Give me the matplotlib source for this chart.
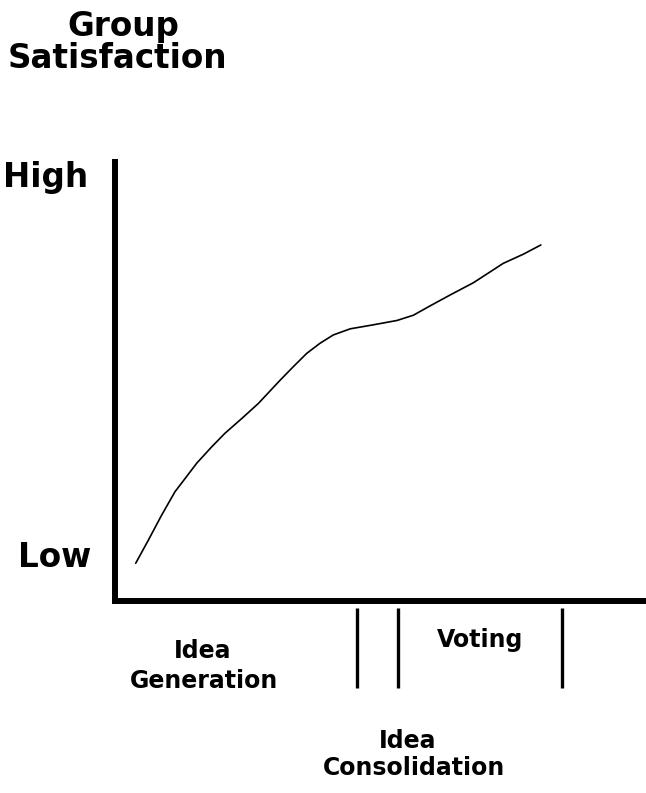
import numpy as np
import matplotlib.pyplot as plt

plt.rcParams['font.family'] = ['DejaVu Sans']

# satisfaction curve (time 0-100, satisfaction 0-100)
time_pts = [3.9, 6.3, 8.8, 11.3, 13.2, 15.4, 18.2, 20.7, 23.9, 27.0, 31.1, 33.6,
            36.1, 38.6, 41.1, 44.3, 48.6, 53.1, 56.2, 59.3, 63.1, 67.5, 73.1,
            76.9, 80.2]
satisfaction = [8.6, 13.9, 19.6, 24.9, 27.9, 31.4, 35.1, 38.2, 41.6, 45.0, 50.3,
                53.4, 56.4, 58.7, 60.6, 62.0, 62.9, 63.9, 65.1, 67.2, 69.7, 72.5,
                76.9, 79.0, 81.1]

# stage boundaries on the time axis
stage_marks = [45.6, 53.3, 84.2]

W, H = 646, 793

fig = plt.figure(figsize=(W / 100, H / 100), dpi=100)
ax = fig.add_axes([115 / W, 1 - 601 / H, (W - 115) / W, (601 - 162) / H])

ax.plot(time_pts, satisfaction, color='black', lw=1.2,
        solid_joinstyle='round', solid_capstyle='round')
ax.vlines(stage_marks, -1.6, -19.8, color='black', lw=2.4, clip_on=False)

ax.set_xlim(0, 100)
ax.set_ylim(0, 100)
ax.set_xticks([])
ax.set_yticks([])
for s in ['top', 'right']:
    ax.spines[s].set_visible(False)
for s in ['left', 'bottom']:
    ax.spines[s].set_linewidth(4.3)
    ax.spines[s].set_capstyle('projecting')


def label(x, y, s, size, ha='center'):
    fig.text(x / W, 1 - y / H, s, fontsize=size, fontweight='bold',
             ha=ha, va='baseline')


big = 23.5
small = 17
label(123, 36, 'Group', big)
label(117, 68, 'Satisfaction', big)
label(3, 187, 'High', big, ha='left')
label(18, 567, 'Low', big, ha='left')
label(203, 658, 'Idea', small)
label(204, 688, 'Generation', small)
label(480, 647, 'Voting', small)
label(408, 748, 'Idea', small)
label(414, 775, 'Consolidation', small)

plt.savefig('out.png', dpi=100)
